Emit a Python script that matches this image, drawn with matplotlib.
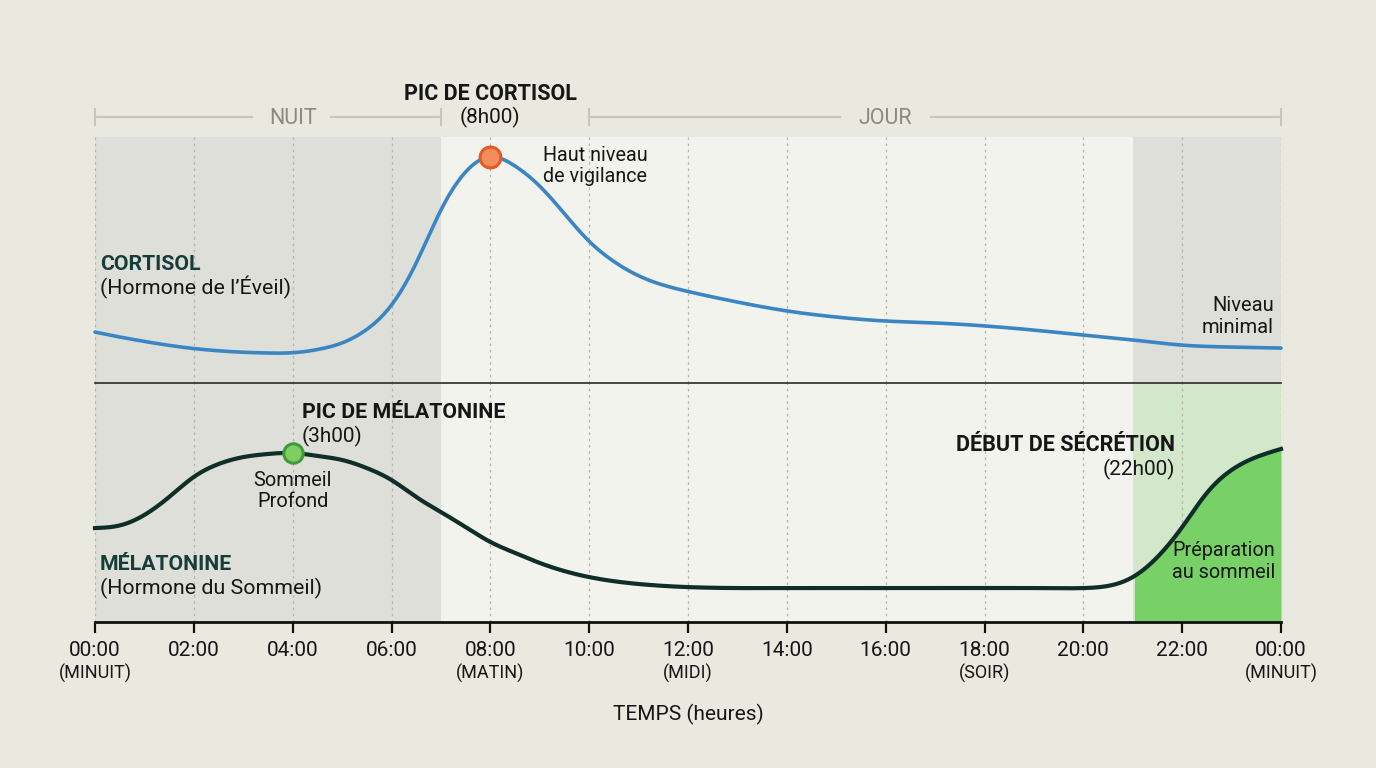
import numpy as np
import matplotlib
matplotlib.use("Agg")
import matplotlib.pyplot as plt
from matplotlib import transforms
from matplotlib.lines import Line2D

plt.rcParams['font.family'] = ['Roboto', 'DejaVu Sans']

# ---------------- data ----------------
cortisol_hours = [0, 0.5, 1, 1.5, 2, 2.5, 3, 3.5, 4, 4.5, 5, 5.5, 6, 6.5, 7, 7.5, 8,
                  8.5, 9, 9.5, 10, 10.5, 11, 11.5, 12, 13, 14, 15, 16, 17, 18, 19, 20,
                  21, 22, 23, 24]
cortisol_level = [20.7, 18.7, 16.9, 15.3, 14.0, 13.1, 12.5, 12.2, 12.3, 13.6, 16.3, 21.8,
                  31.7, 48.8, 70.3, 85.8, 91.9, 88.2, 80.0, 68.8, 57.6, 49.4, 43.6, 39.8,
                  37.2, 32.9, 29.3, 26.8, 25.2, 24.4, 23.2, 21.5, 19.5, 17.5, 15.4, 14.6,
                  14.2]

melatonin_hours = [0, 0.5, 1, 1.5, 2, 2.5, 3, 3.5, 4, 4.5, 5, 5.5, 6, 6.5, 7, 7.5, 8, 8.5,
                   9, 9.5, 10, 11, 12, 13, 14, 15, 16, 17, 18, 19, 20, 20.5, 21, 21.5, 22,
                   22.5, 23, 23.5, 24]
melatonin_level = [39.3, 40.4, 44.8, 52.3, 60.7, 66.1, 69.0, 70.3, 70.7, 69.5, 67.8, 64.4,
                   59.4, 52.3, 46.0, 39.7, 33.5, 28.9, 24.7, 21.3, 18.8, 15.9, 14.6, 14.2,
                   14.2, 14.2, 14.2, 14.2, 14.2, 14.2, 14.2, 15.1, 18.8, 27.2, 39.7, 54.0,
                   63.6, 69.0, 72.4]

cortisol_peak = (8, 91.9)
melatonin_peak = (4, 70.7)

tick_hours = list(range(0, 25, 2))
tick_labels = ["00:00", "02:00", "04:00", "06:00", "08:00", "10:00", "12:00",
               "14:00", "16:00", "18:00", "20:00", "22:00", "00:00"]
tick_sublabels = {0: "(MINUIT)", 8: "(MATIN)", 12: "(MIDI)", 18: "(SOIR)", 24: "(MINUIT)"}

night_end = 7
evening_start = 21

# ---------------- colours ----------------
BG = '#e9e9df'
NIGHT = '#dfdfd9'
DAY = '#f2f3ed'
GREEN_BAND = '#d3e8ca'
GREEN_FILL = '#78d166'
BLUE = '#3a86c4'
DARK = '#0f2e29'
TEAL = '#173d3a'
TXT = '#161616'
GREYTXT = '#8a8a85'
BRACKET = '#c6c6be'
GRID = '#b3b3ab'


def spline(xs, ys, n=600):
    """Natural cubic spline rendering through the given points."""
    x = np.asarray(xs, float); y = np.asarray(ys, float)
    N = len(x); h = np.diff(x)
    A = np.zeros((N, N)); b = np.zeros(N)
    A[0, 0] = A[-1, -1] = 1
    for i in range(1, N - 1):
        A[i, i - 1] = h[i - 1]; A[i, i] = 2 * (h[i - 1] + h[i]); A[i, i + 1] = h[i]
        b[i] = 6 * ((y[i + 1] - y[i]) / h[i] - (y[i] - y[i - 1]) / h[i - 1])
    M = np.linalg.solve(A, b)
    xx = np.linspace(x[0], x[-1], n)
    k = np.clip(np.searchsorted(x, xx) - 1, 0, N - 2)
    t1 = x[k + 1] - xx; t0 = xx - x[k]; hk = h[k]
    yy = (M[k] * t1**3 + M[k + 1] * t0**3) / (6 * hk) \
        + (y[k] / hk - M[k] * hk / 6) * t1 + (y[k + 1] / hk - M[k + 1] * hk / 6) * t0
    return xx, yy


W, H = 1376, 768
fig = plt.figure(figsize=(W / 100, H / 100), dpi=100, facecolor=BG)

L, R = 95, 1281
top_y0, mid_y, bot_y = 137, 383, 622
ax_top = fig.add_axes([L / W, 1 - mid_y / H, (R - L) / W, (mid_y - top_y0) / H])
ax_bot = fig.add_axes([L / W, 1 - bot_y / H, (R - L) / W, (bot_y - mid_y) / H])

for ax in (ax_top, ax_bot):
    ax.set_xlim(0, 24)
    ax.set_ylim(0, 100)
    ax.set_facecolor(DAY)
    for s in ax.spines.values():
        s.set_visible(False)
    ax.set_yticks([])
    ax.axvspan(0, night_end, color=NIGHT, lw=0, zorder=0)
    ax.axvspan(night_end, evening_start, color=DAY, lw=0, zorder=0)
    for h in tick_hours:
        ax.axvline(h, color=GRID, lw=0.9, ls=(0, (2, 3)), zorder=1)

ax_top.axvspan(evening_start, 24, color=NIGHT, lw=0, zorder=0)
ax_bot.axvspan(evening_start, 24, color=GREEN_BAND, lw=0, zorder=0)
ax_top.set_xticks([])

# divider & bottom axis
ax_bot.spines['top'].set_visible(True)
ax_bot.spines['top'].set_color('#2a2a2a')
ax_bot.spines['top'].set_linewidth(1.2)
ax_bot.spines['bottom'].set_visible(True)
ax_bot.spines['bottom'].set_color('#111111')
ax_bot.spines['bottom'].set_linewidth(2.0)
ax_bot.set_xticks(tick_hours)
ax_bot.set_xticklabels([])
ax_bot.tick_params(axis='x', length=8, width=1.6, color='#111111', direction='out')

# cortisol curve
cx, cy = spline(cortisol_hours, cortisol_level)
ax_top.plot(cx, cy, color=BLUE, lw=2.6, solid_capstyle='round', zorder=3, clip_on=False)
ax_top.plot(*cortisol_peak, 'o', ms=15, mfc='#f58c5a', mec='#e45a26', mew=2.2, zorder=4, clip_on=False)

# melatonin curve
mx, my = spline(melatonin_hours, melatonin_level)
mask = mx >= evening_start
ax_bot.fill_between(mx[mask], 0, my[mask], color=GREEN_FILL, lw=0, zorder=2)
ax_bot.plot(mx, my, color=DARK, lw=3.0, zorder=3, clip_on=False)
ax_bot.plot(*melatonin_peak, 'o', ms=14, mfc='#7dcf60', mec='#3f9a3d', mew=2.2, zorder=4, clip_on=False)

# ---------------- text helpers ----------------
blend = transforms.blended_transform_factory(ax_bot.transData, fig.transFigure)


def hx(px):
    return (px - L) / (R - L) * 24


def txt(xh, ypx, s, **kw):
    fig.text(xh, 1 - ypx / H, s, transform=blend, **kw)


def hline(x0, x1, ypx, **kw):
    fig.add_artist(Line2D([x0, x1], [1 - ypx / H, 1 - ypx / H], transform=blend, **kw))


def vline(xh, y0, y1, **kw):
    fig.add_artist(Line2D([xh, xh], [1 - y0 / H, 1 - y1 / H], transform=blend, **kw))


# brackets NUIT / JOUR
bk = dict(color=BRACKET, lw=1.5)
hline(0, hx(252), 117, **bk)
hline(hx(331), night_end, 117, **bk)
vline(0, 109, 125, **bk)
vline(night_end, 109, 125, **bk)
txt(4, 124.5, "NUIT", ha='center', va='baseline', fontsize=15.5, color=GREYTXT)
hline(10, hx(840), 117, **bk)
hline(hx(931), 24, 117, **bk)
vline(10, 109, 125, **bk)
vline(24, 109, 125, **bk)
txt(16, 124.5, "JOUR", ha='center', va='baseline', fontsize=15.5, color=GREYTXT)

# annotations
txt(8, 99.5, "PIC DE CORTISOL", ha='center', va='baseline', fontsize=15.5, fontweight='bold', color=TXT)
txt(8, 123.5, "(8h00)", ha='center', va='baseline', fontsize=15, color=TXT)
txt(hx(543), 161, "Haut niveau", ha='left', va='baseline', fontsize=14.2, color=TXT)
txt(hx(543), 182, "de vigilance", ha='left', va='baseline', fontsize=14.2, color=TXT)

txt(hx(100), 270, "CORTISOL", ha='left', va='baseline', fontsize=15.3, fontweight='bold', color=TEAL)
txt(hx(100), 294, "(Hormone de l\u2019\u00c9veil)", ha='left', va='baseline', fontsize=15.4, color=TXT)

txt(hx(1274), 311, "Niveau", ha='right', va='baseline', fontsize=14.5, color=TXT)
txt(hx(1274), 333, "minimal", ha='right', va='baseline', fontsize=14.5, color=TXT)

txt(hx(302), 418, "PIC DE M\u00c9LATONINE", ha='left', va='baseline', fontsize=15.4, fontweight='bold', color=TXT)
txt(hx(302), 442, "(3h00)", ha='left', va='baseline', fontsize=15, color=TXT)
txt(4, 486, "Sommeil", ha='center', va='baseline', fontsize=14.4, color=TXT)
txt(4, 507, "Profond", ha='center', va='baseline', fontsize=14.4, color=TXT)

txt(hx(1175), 451, "D\u00c9BUT DE S\u00c9CR\u00c9TION", ha='right', va='baseline', fontsize=15.5, fontweight='bold', color=TXT)
txt(hx(1175), 475, "(22h00)", ha='right', va='baseline', fontsize=15, color=TXT)
txt(hx(1275), 556, "Pr\u00e9paration", ha='right', va='baseline', fontsize=14.3, color=TXT)
txt(hx(1275), 578, "au sommeil", ha='right', va='baseline', fontsize=14.3, color=TXT)

txt(hx(100), 570, "M\u00c9LATONINE", ha='left', va='baseline', fontsize=15.3, fontweight='bold', color=TEAL)
txt(hx(100), 594, "(Hormone du Sommeil)", ha='left', va='baseline', fontsize=15.4, color=TXT)

# tick labels
for h, lab in zip(tick_hours, tick_labels):
    txt(h, 656, lab, ha='center', va='baseline', fontsize=15, color=TXT)
    if h in tick_sublabels:
        txt(h, 678.5, tick_sublabels[h], ha='center', va='baseline', fontsize=13, color=TXT)

txt(12, 720, "TEMPS (heures)", ha='center', va='baseline', fontsize=15, color=TXT)

fig.savefig("out.png", dpi=100, facecolor=BG)
